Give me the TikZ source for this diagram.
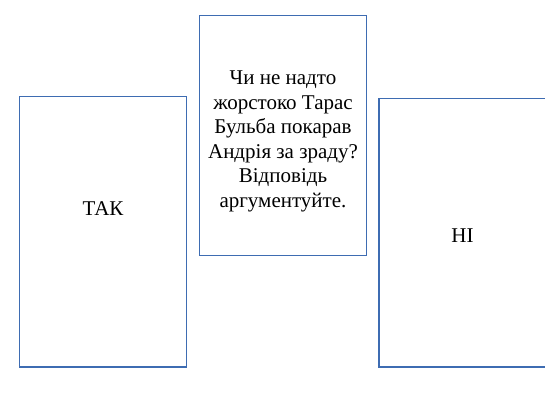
\documentclass[tikz,border=0pt]{standalone}
\usepackage{fontspec}
\setmainfont{Liberation Serif}
\definecolor{boxblue}{RGB}{62,108,178}
\begin{document}
\begin{tikzpicture}[x=1pt,y=-1pt,
  card/.style={draw=boxblue,line width=1.3pt,fill=white},
  lbl/.style={font=\fontsize{21}{24.5}\selectfont,align=center,text=black}]
\useasboundingbox (0,0) rectangle (545,409);
\begin{scope}
\clip (0,0) rectangle (545,409);
\draw[card] (19.5,96.5) rectangle (186.5,367);
\draw[card] (199.5,15.5) rectangle (366.5,255.5);
\draw[card] (379,98.5) rectangle (560,367);
\end{scope}
\node[lbl] (tak) at (103,209) {ТАК};
\node[lbl] (q) at (283,141.5) {Чи не надто\\жорстоко Тарас\\Бульба покарав\\Андрія за зраду?\\Відповідь\\аргументуйте.};
\node[lbl] (ni) at (462.5,235.5) {НІ};
\end{tikzpicture}
\end{document}
